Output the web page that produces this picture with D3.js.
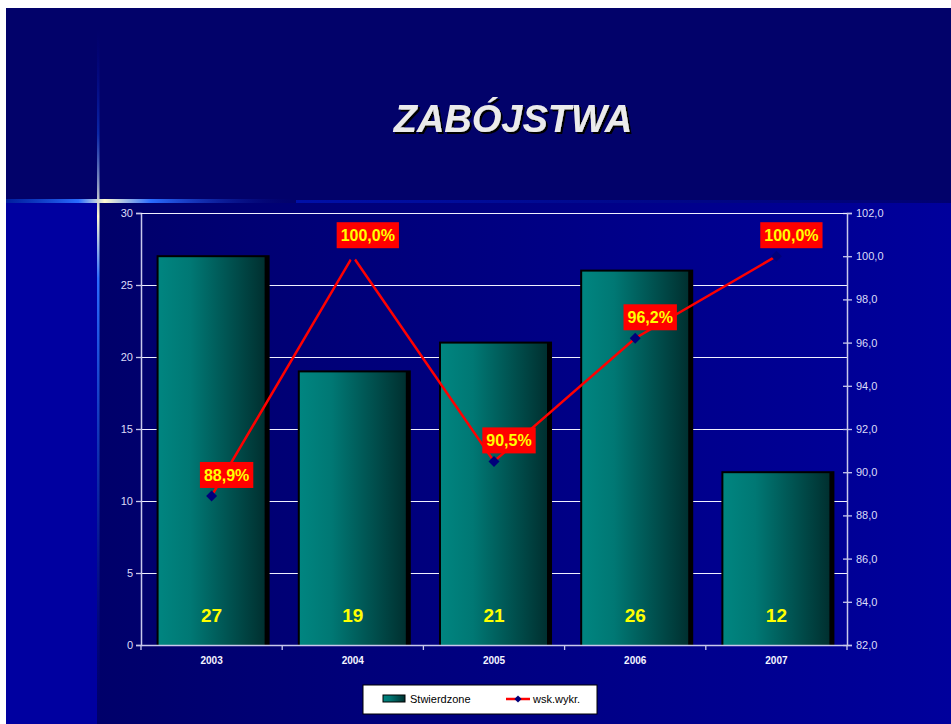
<!DOCTYPE html>
<html>
<head>
<meta charset="utf-8">
<script src="https://cdn.jsdelivr.net/npm/d3@7/dist/d3.min.js"></script>
<style>
  body { margin: 0; background: #fff; }
  svg { display: block; font-family: "Liberation Sans", Arial, sans-serif; }
</style>
</head>
<body>
<svg width="951" height="724"></svg>
<script>
const years = ["2003", "2004", "2005", "2006", "2007"];
const confirmed = [27, 19, 21, 26, 12];
const detection = [88.9, 100.0, 90.5, 96.2, 100.0];
const leftTicks = [0, 5, 10, 15, 20, 25, 30];
const rightTicks = [82, 84, 86, 88, 90, 92, 94, 96, 98, 100, 102];

const svg = d3.select("svg");
const defs = svg.append("defs");
const fmt = v => v.toFixed(1).replace(".", ",");

// --- background ---
const bgGrad = defs.append("linearGradient").attr("id", "bgLow").attr("x1", 0).attr("x2", 1);
bgGrad.append("stop").attr("offset", 0).attr("stop-color", "#00006a");
bgGrad.append("stop").attr("offset", 1).attr("stop-color", "#00009c");
svg.append("rect").attr("x", 6).attr("y", 8).attr("width", 945).attr("height", 716).attr("fill", "#02026a");
svg.append("rect").attr("x", 6).attr("y", 203).attr("width", 91).attr("height", 521).attr("fill", "#0000a0");
svg.append("rect").attr("x", 97).attr("y", 203).attr("width", 854).attr("height", 521).attr("fill", "url(#bgLow)");

// glow star
const hGlow = defs.append("linearGradient").attr("id", "hGlow").attr("x1", 0).attr("x2", 1);
[[0, "#0030c0", 0.6], [0.25, "#2a6cff", 1], [0.34, "#fffbd0", 1], [0.5, "#2a6cff", 1], [1, "#00008a", 0]]
  .forEach(s => hGlow.append("stop").attr("offset", s[0]).attr("stop-color", s[1]).attr("stop-opacity", s[2]));
svg.append("rect").attr("x", 6).attr("y", 199).attr("width", 290).attr("height", 4).attr("fill", "url(#hGlow)");
const band = defs.append("linearGradient").attr("id", "band").attr("x1", 0).attr("x2", 1);
band.append("stop").attr("offset", 0).attr("stop-color", "#0010a8");
band.append("stop").attr("offset", 1).attr("stop-color", "#000070");
svg.append("rect").attr("x", 296).attr("y", 200).attr("width", 655).attr("height", 3).attr("fill", "url(#band)");
const vGlow = defs.append("linearGradient").attr("id", "vGlow").attr("x1", 0).attr("x2", 0).attr("y1", 0).attr("y2", 1);
[[0, "#0000a0", 0], [0.15, "#1040d0", 0.6], [0.27, "#fffbd0", 1], [0.36, "#2a6cff", 1], [0.7, "#1040d0", 0.5], [1, "#0000a0", 0]]
  .forEach(s => vGlow.append("stop").attr("offset", s[0]).attr("stop-color", s[1]).attr("stop-opacity", s[2]));
svg.append("rect").attr("x", 97).attr("y", 30).attr("width", 2.5).attr("height", 690).attr("fill", "url(#vGlow)");

// --- title (shadow via filter) ---
const shadow = defs.append("filter").attr("id", "shadow").attr("x", "-10%").attr("y", "-20%")
  .attr("width", "130%").attr("height", "160%");
shadow.append("feDropShadow").attr("dx", 2).attr("dy", 2).attr("stdDeviation", 0.3)
  .attr("flood-color", "#000").attr("flood-opacity", 1);
svg.append("text").attr("x", 513).attr("y", 132).attr("text-anchor", "middle")
  .attr("font-size", 38).attr("font-weight", "bold").attr("font-style", "italic")
  .attr("fill", "#ebebeb").attr("filter", "url(#shadow)").text("ZABÓJSTWA");

// --- scales ---
const x = d3.scaleBand().domain(years).range([141, 847]).paddingInner(0.235).paddingOuter(0.1175);
const xc = d3.scalePoint().domain(years).range([141, 847]).padding(0.5);
const yL = d3.scaleLinear().domain([0, 30]).range([645, 213]);
const yR = d3.scaleLinear().domain([82, 102]).range([645, 213]);

// gridlines
svg.append("g").attr("shape-rendering", "crispEdges").selectAll("line")
  .data(leftTicks.filter(d => d > 0)).join("line")
  .attr("x1", 141).attr("x2", 847).attr("y1", d => yL(d) + 0.5).attr("y2", d => yL(d) + 0.5)
  .attr("stroke", "#f0f0ff").attr("stroke-width", 1);

// --- bars ---
const barGrad = defs.append("linearGradient").attr("id", "barGrad").attr("x1", 0).attr("x2", 1);
barGrad.append("stop").attr("offset", 0).attr("stop-color", "#008580");
barGrad.append("stop").attr("offset", 0.3).attr("stop-color", "#007874");
barGrad.append("stop").attr("offset", 1).attr("stop-color", "#003030");

const bars = svg.append("g").selectAll("g").data(years).join("g");
bars.append("rect")
  .attr("x", (d) => x(d) - 1).attr("y", (d, i) => yL(confirmed[i]) - 1)
  .attr("width", x.bandwidth() + 5).attr("height", (d, i) => yL(0) - yL(confirmed[i]) + 1)
  .attr("fill", "#000");
bars.append("rect")
  .attr("x", d => x(d) + 1).attr("y", (d, i) => yL(confirmed[i]) + 1)
  .attr("width", x.bandwidth() - 2).attr("height", (d, i) => yL(0) - yL(confirmed[i]) - 1)
  .attr("fill", "url(#barGrad)");
bars.append("text")
  .attr("x", d => xc(d)).attr("y", yL(0) - 30).attr("dy", "0.35em")
  .attr("text-anchor", "middle").attr("font-size", 19).attr("font-weight", "bold")
  .attr("fill", "#ffff00").text((d, i) => confirmed[i]);

// --- axes ---
const axisCol = "#c8c8ec";
const axL = svg.append("g").attr("transform", "translate(141,0)")
  .call(d3.axisLeft(yL).tickValues(leftTicks).tickSize(5).tickPadding(3));
const axR = svg.append("g").attr("transform", "translate(847,0)")
  .call(d3.axisRight(yR).tickValues(rightTicks).tickSize(5).tickPadding(4).tickFormat(fmt));
axR.selectAll(".tick line").attr("x1", -4);
const axB = svg.append("g").attr("transform", "translate(0,645)")
  .call(d3.axisBottom(x).tickSize(0).tickPadding(12));
[axL, axR, axB].forEach(a => {
  a.select(".domain").attr("stroke", axisCol).attr("stroke-width", 1.5);
  a.selectAll(".tick line").attr("stroke", axisCol).attr("stroke-width", 1.3);
  a.selectAll("text").attr("fill", "#dcdcf8").attr("font-size", 11)
    .attr("font-family", "'Liberation Sans', Arial, sans-serif");
});
axB.selectAll("text").attr("font-weight", "bold").attr("font-size", 10).attr("fill", "#f4f4ff");
svg.append("g").selectAll("line").data(d3.range(years.length + 1)).join("line")
  .attr("x1", i => 141 + i * 706 / years.length).attr("x2", i => 141 + i * 706 / years.length)
  .attr("y1", 645).attr("y2", 650).attr("stroke", axisCol).attr("stroke-width", 1.3);
svg.append("line").attr("x1", 141).attr("x2", 847).attr("y1", 213.5).attr("y2", 213.5)
  .attr("stroke", "#f0f0ff").attr("stroke-width", 1.2);

// --- line series ---
const line = d3.line().x((d, i) => xc(years[i])).y(d => yR(d));
svg.append("path").datum(detection).attr("d", line)
  .attr("fill", "none").attr("stroke", "#ff0000").attr("stroke-width", 2.5);
svg.append("g").selectAll("path").data(detection).join("path")
  .attr("d", d3.symbol().type(d3.symbolSquare).size(60))
  .attr("transform", (d, i) => `translate(${xc(years[i])},${yR(d)}) rotate(45)`)
  .attr("fill", "#00007a");

const labels = svg.append("g").selectAll("g").data(detection).join("g")
  .attr("transform", (d, i) => `translate(${xc(years[i]) + 15},${yR(d) - 21})`);
labels.append("text").attr("text-anchor", "middle").attr("dy", "0.36em")
  .attr("font-size", 16).attr("font-weight", "bold").attr("fill", "#ffff00")
  .text(d => fmt(d) + "%")
  .each(function() {
    const b = this.getBBox();
    d3.select(this.parentNode).insert("rect", "text")
      .attr("x", b.x - 4).attr("y", -13).attr("width", b.width + 8).attr("height", 26)
      .attr("fill", "#ff0000");
  });

// --- legend ---
const lg = svg.append("g");
lg.append("rect").attr("x", 363).attr("y", 685).attr("width", 234).attr("height", 29)
  .attr("fill", "#fff").attr("stroke", "#000").attr("stroke-width", 1);
lg.append("rect").attr("x", 383).attr("y", 695).attr("width", 22).attr("height", 7)
  .attr("fill", "url(#barGrad)").attr("stroke", "#000").attr("stroke-width", 1);
lg.append("text").attr("x", 410).attr("y", 703).attr("font-size", 11).attr("fill", "#000").text("Stwierdzone");
lg.append("line").attr("x1", 506).attr("x2", 530).attr("y1", 699).attr("y2", 699)
  .attr("stroke", "#ff0000").attr("stroke-width", 2.5);
lg.append("path").attr("d", d3.symbol().type(d3.symbolSquare).size(26))
  .attr("transform", "translate(518,699) rotate(45)").attr("fill", "#00007a");
lg.append("text").attr("x", 533).attr("y", 703).attr("font-size", 11).attr("fill", "#000").text("wsk.wykr.");
</script>
</body>
</html>
